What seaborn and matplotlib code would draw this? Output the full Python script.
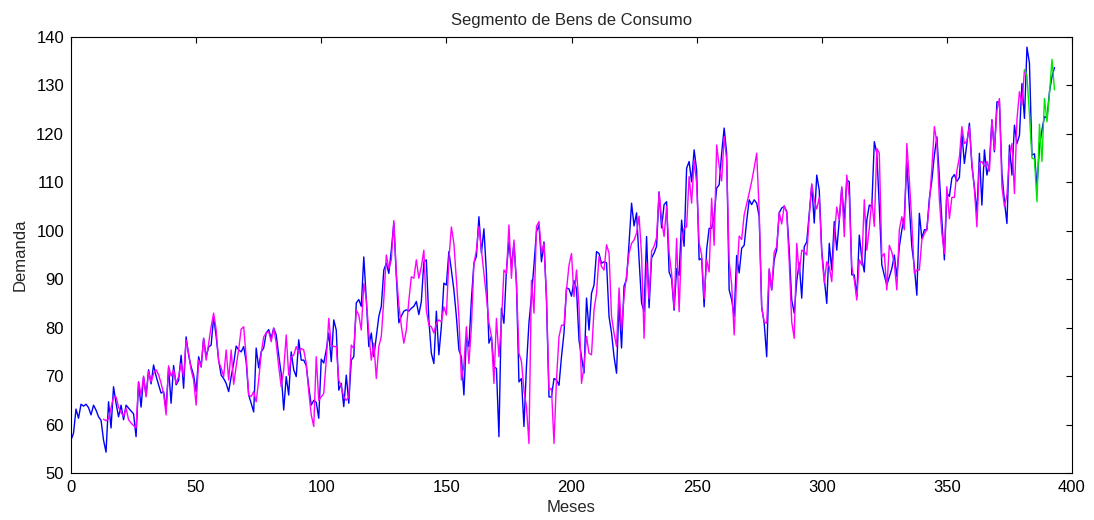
import numpy as np
import pandas as pd
import matplotlib
matplotlib.use("Agg")
import matplotlib.pyplot as plt
import seaborn as sns

# Demanda mensal observada (meses 0..393)
demanda_real = [
    56.8, 58.2, 63.2, 61.3, 64.2, 63.8, 64.2, 63.5, 62.0, 64.0,
    63.0, 61.6, 60.9, 56.8, 54.3, 64.7, 59.3, 67.8, 64.4, 61.6,
    64.0, 61.0, 64.0, 63.4, 62.8, 62.2, 57.5, 68.8, 63.6, 69.8,
    66.0, 71.3, 68.4, 72.3, 70.0, 68.2, 66.5, 66.8, 63.4, 71.7,
    64.4, 72.2, 68.2, 69.1, 74.3, 67.5, 78.1, 74.3, 71.9, 70.2,
    66.8, 74.0, 71.9, 77.8, 74.0, 76.0, 76.4, 82.3, 78.2, 73.3,
    70.2, 69.5, 68.5, 66.8, 69.9, 72.6, 76.2, 75.4, 75.0, 76.1,
    73.0, 66.1, 64.4, 62.6, 75.8, 71.7, 75.0, 75.8, 78.9, 79.6,
    77.8, 79.9, 78.5, 74.3, 70.5, 63.0, 69.9, 66.1, 75.0, 71.3,
    69.9, 77.5, 73.3, 73.3, 72.2, 67.8, 64.0, 65.0, 64.6, 61.3,
    73.5, 72.7, 75.4, 78.9, 73.0, 81.6, 79.5, 67.1, 68.5, 63.7,
    70.2, 64.4, 73.3, 74.0, 85.1, 85.8, 84.4, 94.6, 85.8, 76.1,
    78.9, 74.0, 78.2, 82.3, 84.4, 91.9, 93.3, 91.2, 96.0, 101.6,
    90.6, 81.0, 82.4, 83.4, 83.7, 83.4, 84.0, 84.4, 85.4, 82.7,
    85.4, 93.6, 94.0, 81.6, 74.7, 72.6, 83.4, 74.4, 80.3, 89.2,
    88.8, 95.7, 91.9, 87.8, 82.3, 75.4, 74.0, 66.1, 78.2, 76.1,
    85.8, 93.3, 94.7, 102.9, 95.4, 100.4, 91.3, 76.8, 78.2, 71.9,
    71.6, 57.5, 84.0, 80.9, 91.9, 97.7, 92.6, 97.4, 89.2, 68.8,
    69.5, 59.6, 72.0, 81.0, 86.5, 92.9, 99.8, 101.2, 93.6, 97.7,
    85.8, 65.7, 65.7, 69.5, 69.2, 68.1, 74.0, 78.9, 88.2, 88.0,
    86.5, 89.7, 88.0, 77.4, 74.0, 70.6, 86.1, 79.5, 87.1, 88.8,
    95.7, 95.3, 93.3, 93.6, 93.4, 82.3, 78.9, 74.0, 70.6, 85.1,
    75.8, 88.6, 90.0, 97.5, 105.7, 101.0, 103.7, 94.1, 85.1, 83.3,
    98.8, 84.1, 94.4, 95.4, 96.8, 108.0, 100.6, 105.4, 106.0, 91.5,
    90.1, 83.6, 92.2, 90.8, 102.2, 96.8, 112.9, 114.3, 110.1, 116.7,
    112.6, 94.0, 94.3, 84.3, 96.1, 100.5, 100.5, 103.0, 108.8, 109.5,
    116.0, 121.2, 116.0, 87.8, 85.8, 82.3, 94.9, 91.3, 96.4, 97.0,
    102.0, 106.4, 105.4, 106.4, 105.7, 102.9, 84.3, 80.9, 74.0, 91.9,
    87.8, 94.0, 96.1, 103.7, 104.7, 105.0, 104.0, 96.1, 85.7, 83.0,
    89.6, 93.4, 86.1, 96.7, 97.7, 103.6, 109.4, 101.6, 111.5, 108.4,
    96.0, 90.2, 85.0, 97.4, 91.9, 101.9, 96.0, 102.2, 108.8, 102.2,
    110.5, 110.1, 90.9, 90.9, 86.4, 99.1, 94.3, 91.5, 102.2, 105.3,
    105.0, 118.4, 116.0, 105.0, 93.0, 90.8, 88.8, 90.5, 92.2, 95.0,
    90.5, 96.7, 100.2, 102.9, 114.3, 105.0, 96.7, 92.6, 86.7, 103.6,
    98.4, 100.2, 100.2, 106.7, 110.4, 115.6, 119.4, 111.1, 102.1, 94.0,
    107.8, 107.1, 110.9, 111.6, 110.2, 111.0, 120.1, 113.9, 118.0, 122.2,
    113.3, 109.1, 103.6, 116.0, 105.3, 116.7, 111.5, 113.9, 122.9, 116.3,
    126.6, 126.6, 111.9, 106.1, 101.5, 117.7, 111.5, 121.8, 118.0, 119.7,
    130.4, 123.2, 137.9, 134.6, 115.6, 115.9, 109.1, 117.4, 120.8, 123.6,
    123.2, 128.7, 131.8, 133.7,
]

# Valores ajustados pelo modelo (a partir do mes 13)
inicio_ajuste = 13
demanda_ajustada = [
    61.1, 60.8, 61.2, 63.5, 65.7, 65.7, 63.6,
    62.5, 61.7, 63.4, 61.0, 60.3, 59.8, 59.3, 68.8, 66.1, 70.0,
    65.7, 71.0, 68.8, 70.5, 71.3, 70.3, 68.5, 66.4, 62.0, 72.1,
    70.0, 71.3, 68.5, 69.9, 72.6, 69.9, 77.4, 74.7, 71.3, 69.2,
    64.0, 73.3, 71.9, 77.8, 73.3, 76.8, 80.2, 83.0, 79.6, 73.0,
    71.7, 69.9, 75.4, 69.2, 75.4, 68.3, 72.0, 75.5, 79.7, 80.2,
    74.0, 66.1, 65.8, 66.8, 64.7, 69.2, 74.7, 78.1, 78.9, 79.2,
    77.1, 79.9, 76.8, 72.0, 67.8, 71.3, 78.5, 70.2, 74.0, 74.3,
    76.1, 74.7, 75.7, 75.4, 72.6, 66.8, 62.0, 59.6, 74.0, 65.0,
    65.7, 66.4, 73.3, 81.9, 76.4, 76.1, 76.1, 69.2, 67.8, 65.7,
    65.0, 65.7, 76.4, 75.7, 83.6, 82.6, 79.5, 89.1, 85.8, 78.9,
    73.3, 76.8, 69.5, 76.1, 78.2, 85.8, 95.0, 92.2, 94.0, 102.1,
    91.2, 84.7, 80.3, 76.8, 79.5, 85.6, 90.5, 90.2, 94.0, 90.2,
    92.6, 96.0, 83.6, 80.5, 80.2, 78.9, 80.9, 81.6, 81.2, 84.3,
    82.6, 94.0, 100.8, 97.4, 89.9, 82.3, 69.2, 72.3, 80.2, 72.6,
    80.2, 93.2, 96.0, 100.9, 96.1, 91.3, 86.4, 81.0, 78.2, 68.5,
    81.9, 74.0, 80.9, 91.9, 91.2, 101.2, 90.2, 98.1, 89.2, 74.7,
    73.0, 67.1, 63.7, 56.1, 89.8, 83.0, 100.9, 101.9, 95.4, 97.4,
    86.5, 67.1, 67.5, 56.1, 69.2, 78.1, 80.5, 80.5, 87.8, 92.9,
    95.3, 86.4, 91.9, 84.4, 68.5, 72.0, 78.2, 74.7, 74.4, 83.7,
    87.1, 94.7, 92.6, 91.9, 97.1, 95.4, 82.3, 78.9, 76.1, 88.2,
    79.5, 86.4, 90.9, 95.4, 97.4, 98.1, 99.5, 103.0, 95.0, 77.8,
    93.3, 86.0, 95.8, 96.8, 98.6, 108.0, 102.2, 98.8, 105.0, 95.4,
    91.2, 84.0, 98.4, 83.3, 97.7, 100.5, 100.8, 111.2, 105.7, 114.6,
    109.8, 97.4, 95.0, 86.0, 94.0, 91.5, 106.7, 97.0, 117.7, 113.4,
    110.3, 119.4, 114.6, 93.7, 88.9, 78.5, 90.2, 98.9, 98.2, 103.3,
    105.5, 107.8, 110.2, 113.0, 116.0, 104.0, 84.0, 81.2, 80.9, 92.2,
    87.8, 95.6, 96.7, 103.8, 101.4, 105.2, 103.8, 93.5, 81.2, 77.8,
    97.4, 91.2, 96.0, 95.7, 95.0, 102.9, 109.7, 106.3, 104.5, 106.9,
    95.3, 89.2, 93.6, 92.6, 89.5, 98.8, 104.9, 102.2, 109.1, 98.8,
    111.5, 107.0, 92.6, 89.9, 85.7, 94.0, 92.9, 106.4, 96.0, 100.5,
    106.4, 100.9, 117.0, 116.0, 94.6, 95.3, 87.8, 97.0, 95.6, 93.2,
    87.8, 100.2, 102.9, 100.2, 118.0, 110.5, 101.6, 91.2, 91.9, 91.9,
    98.1, 99.4, 100.2, 105.7, 112.9, 121.5, 118.1, 106.4, 99.5, 95.3,
    109.1, 102.5, 106.9, 106.9, 112.4, 115.2, 121.5, 118.0, 118.5, 121.5,
    114.0, 108.5, 100.8, 114.0, 114.3, 113.3, 114.3, 112.3, 122.9, 116.7,
    124.9, 127.3, 109.1, 105.0, 107.4, 115.6, 118.0, 107.7, 122.9, 128.7,
    126.0, 133.2,
]

# Previsao para os ultimos meses
inicio_previsao = 381
demanda_prevista = [
    133.2, 132.0, 124.0, 115.0, 114.8, 106.0, 122.0,
    114.3, 127.3, 122.5, 128.3, 135.4, 129.1,
]

titulo = "Segmento de Bens de Consumo"
rotulo_x = "Meses"
rotulo_y = "Demanda"
ticks_x = [0, 50, 100, 150, 200, 250, 300, 350, 400]
ticks_y = [50, 60, 70, 80, 90, 100, 110, 120, 130, 140]

real = pd.DataFrame({"mes": np.arange(len(demanda_real)), "demanda": demanda_real})
ajuste = pd.DataFrame({
    "mes": np.arange(inicio_ajuste, inicio_ajuste + len(demanda_ajustada)),
    "demanda": demanda_ajustada,
})
previsao = pd.DataFrame({
    "mes": np.arange(inicio_previsao, inicio_previsao + len(demanda_prevista)),
    "demanda": demanda_prevista,
})

sns.set_theme(style="white")
plt.rcParams["font.family"] = ["Liberation Sans", "DejaVu Sans"]

fig = plt.figure(figsize=(10.94, 5.20), dpi=100)
ax = fig.add_axes([71 / 1094, 1 - 473 / 520, (1072 - 71) / 1094, (473 - 37) / 520])

sns.lineplot(data=real, x="mes", y="demanda", ax=ax, color="#0000FF",
             linewidth=1.0, estimator=None, sort=False)
sns.lineplot(data=ajuste, x="mes", y="demanda", ax=ax, color="#FF00FF",
             linewidth=1.0, estimator=None, sort=False)
sns.lineplot(data=previsao, x="mes", y="demanda", ax=ax, color="#00E600",
             linewidth=1.0, estimator=None, sort=False)

ax.set_xlim(0, 400)
ax.set_ylim(50, 140)
ax.set_xticks(ticks_x)
ax.set_yticks(ticks_y)
ax.tick_params(direction="in", length=4, width=0.8, top=True, right=True,
               labelsize=12, colors="black", pad=5)
for s in ax.spines.values():
    s.set_visible(True)
    s.set_color("black")
    s.set_linewidth(0.8)

ax.set_title(titulo, fontsize=12, pad=9)
ax.set_xlabel(rotulo_x, fontsize=12, labelpad=4)
ax.set_ylabel(rotulo_y, fontsize=12, labelpad=6)

fig.savefig("out.png", dpi=100, facecolor="white")
